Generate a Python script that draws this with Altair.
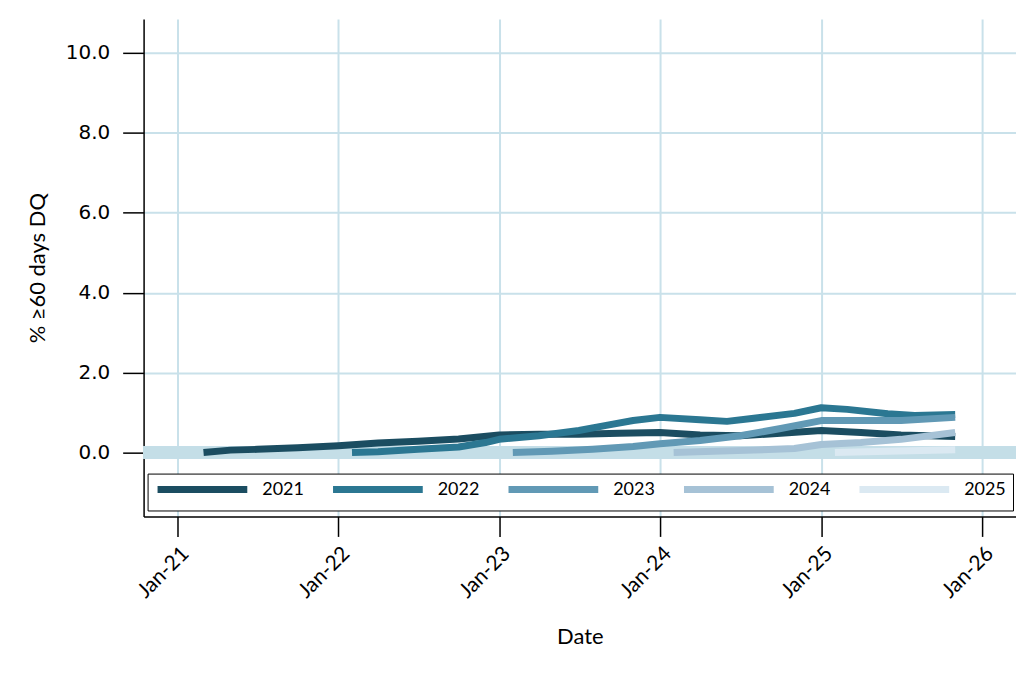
import altair as alt
import pandas as pd

# ---- data ----
dates_2021 = ["2021-03-01", "2021-05-01", "2021-07-01", "2021-10-01", "2022-01-01", "2022-04-01",
              "2022-07-01", "2022-10-01", "2023-01-01", "2023-04-01", "2023-07-01", "2023-10-01",
              "2024-01-01", "2024-04-01", "2024-07-01", "2024-10-01", "2025-01-01", "2025-04-01",
              "2025-07-01", "2025-11-01"]
vals_2021 = [0.0, 0.06, 0.08, 0.12, 0.17, 0.24, 0.28, 0.34, 0.44, 0.46, 0.46, 0.48,
             0.50, 0.44, 0.42, 0.48, 0.55, 0.50, 0.44, 0.40]

dates_2022 = ["2022-02-01", "2022-04-01", "2022-07-01", "2022-10-01", "2022-12-01", "2023-01-01",
              "2023-04-01", "2023-07-01", "2023-09-01", "2023-11-01", "2024-01-01", "2024-04-01",
              "2024-06-01", "2024-08-01", "2024-11-01", "2025-01-01", "2025-03-01", "2025-06-01",
              "2025-08-01", "2025-11-01"]
vals_2022 = [0.0, 0.02, 0.08, 0.14, 0.25, 0.33, 0.42, 0.55, 0.68, 0.80, 0.88, 0.82,
             0.78, 0.86, 0.98, 1.12, 1.08, 0.97, 0.93, 0.95]

dates_2023 = ["2023-02-01", "2023-05-01", "2023-08-01", "2023-11-01", "2024-01-01", "2024-04-01",
              "2024-07-01", "2024-10-01", "2025-01-01", "2025-04-01", "2025-07-01", "2025-11-01"]
vals_2023 = [0.0, 0.03, 0.08, 0.15, 0.22, 0.30, 0.42, 0.60, 0.80, 0.80, 0.80, 0.88]

dates_2024 = ["2024-02-01", "2024-05-01", "2024-08-01", "2024-11-01", "2025-01-01", "2025-04-01",
              "2025-07-01", "2025-11-01"]
vals_2024 = [0.0, 0.03, 0.06, 0.10, 0.20, 0.25, 0.33, 0.50]

dates_2025 = ["2025-02-01", "2025-06-01", "2025-11-01"]
vals_2025 = [0.0, 0.03, 0.07]

series_names = ["2021", "2022", "2023", "2024", "2025"]
series_colors = ["#1b4d61", "#2b7792", "#6199b5", "#a6c2d6", "#dbe9f2"]
y_ticks = [0, 2, 4, 6, 8, 10]
x_tick_years = [2021, 2022, 2023, 2024, 2025, 2026]

rows = []
for name, ds, vs in zip(series_names,
                        [dates_2021, dates_2022, dates_2023, dates_2024, dates_2025],
                        [vals_2021, vals_2022, vals_2023, vals_2024, vals_2025]):
    for d, v in zip(ds, vs):
        rows.append({"date": d, "value": v, "vintage": name})
df = pd.DataFrame(rows)

FONT = "Lato"
GRID = "#c9e1ea"

x_enc = alt.X(
    "date:T",
    title="Date",
    scale=alt.Scale(type="utc",
                    domain=[alt.DateTime(year=2020, month=10, date=16, utc=True),
                            alt.DateTime(year=2026, month=3, date=19, utc=True)]),
    axis=alt.Axis(values=[alt.DateTime(year=y, month=1, date=1, utc=True) for y in x_tick_years],
                  labelExpr="utcFormat(datum.value, '%b-%y')", grid=True,
                  labelAngle=-45, labelFontSize=21, labelFont=FONT, labelPadding=6,
                  tickSize=20, titleFontSize=22, titleFont=FONT, titlePadding=25,
                  titleFontWeight="normal"),
)
y_enc = alt.Y(
    "value:Q",
    title="% ≥60 days DQ",
    scale=alt.Scale(domain=[-1.6, 10.85], nice=False, zero=False),
    axis=alt.Axis(values=y_ticks, format=".1f", grid=True, labelFont="DejaVu Sans",
                  labelFontSize=20, labelPadding=13, tickSize=21, titleFont=FONT,
                  titleFontSize=22, titleFontWeight="normal", titlePadding=16),
)

band = alt.Chart(df).mark_rule(color="#c4dee7", strokeWidth=12).encode(y=alt.datum(0))

lines = alt.Chart(df).mark_line(strokeWidth=7, strokeCap="butt", strokeJoin="round").encode(
    x=x_enc,
    y=y_enc,
    color=alt.Color(
        "vintage:N",
        scale=alt.Scale(domain=series_names, range=series_colors),
        legend=alt.Legend(
            title=None, orient="none", legendX=4, legendY=456, direction="horizontal",
            columns=5, symbolType="M-1.2,0H16.8", symbolSize=100, symbolStrokeWidth=7,
            labelFont=FONT, labelFontSize=18, labelOffset=90, columnPadding=15,
            strokeColor="black", fillColor="white", padding=7, cornerRadius=0,
        ),
    ),
    detail="vintage:N",
)

chart = alt.layer(band, lines).properties(
    width=875, height=499,
    autosize=alt.AutoSizeParams(type="none"),
    padding={"left": 136, "top": 10, "right": 0, "bottom": 150},
).configure_view(stroke=None).configure_axis(
    domainColor="black", domainWidth=1.5, tickColor="black", tickWidth=1.5,
    gridColor=GRID, gridWidth=2, labelColor="black", titleColor="black",
)

chart.save("out.html", embed_options={"renderer": "svg", "actions": False})
